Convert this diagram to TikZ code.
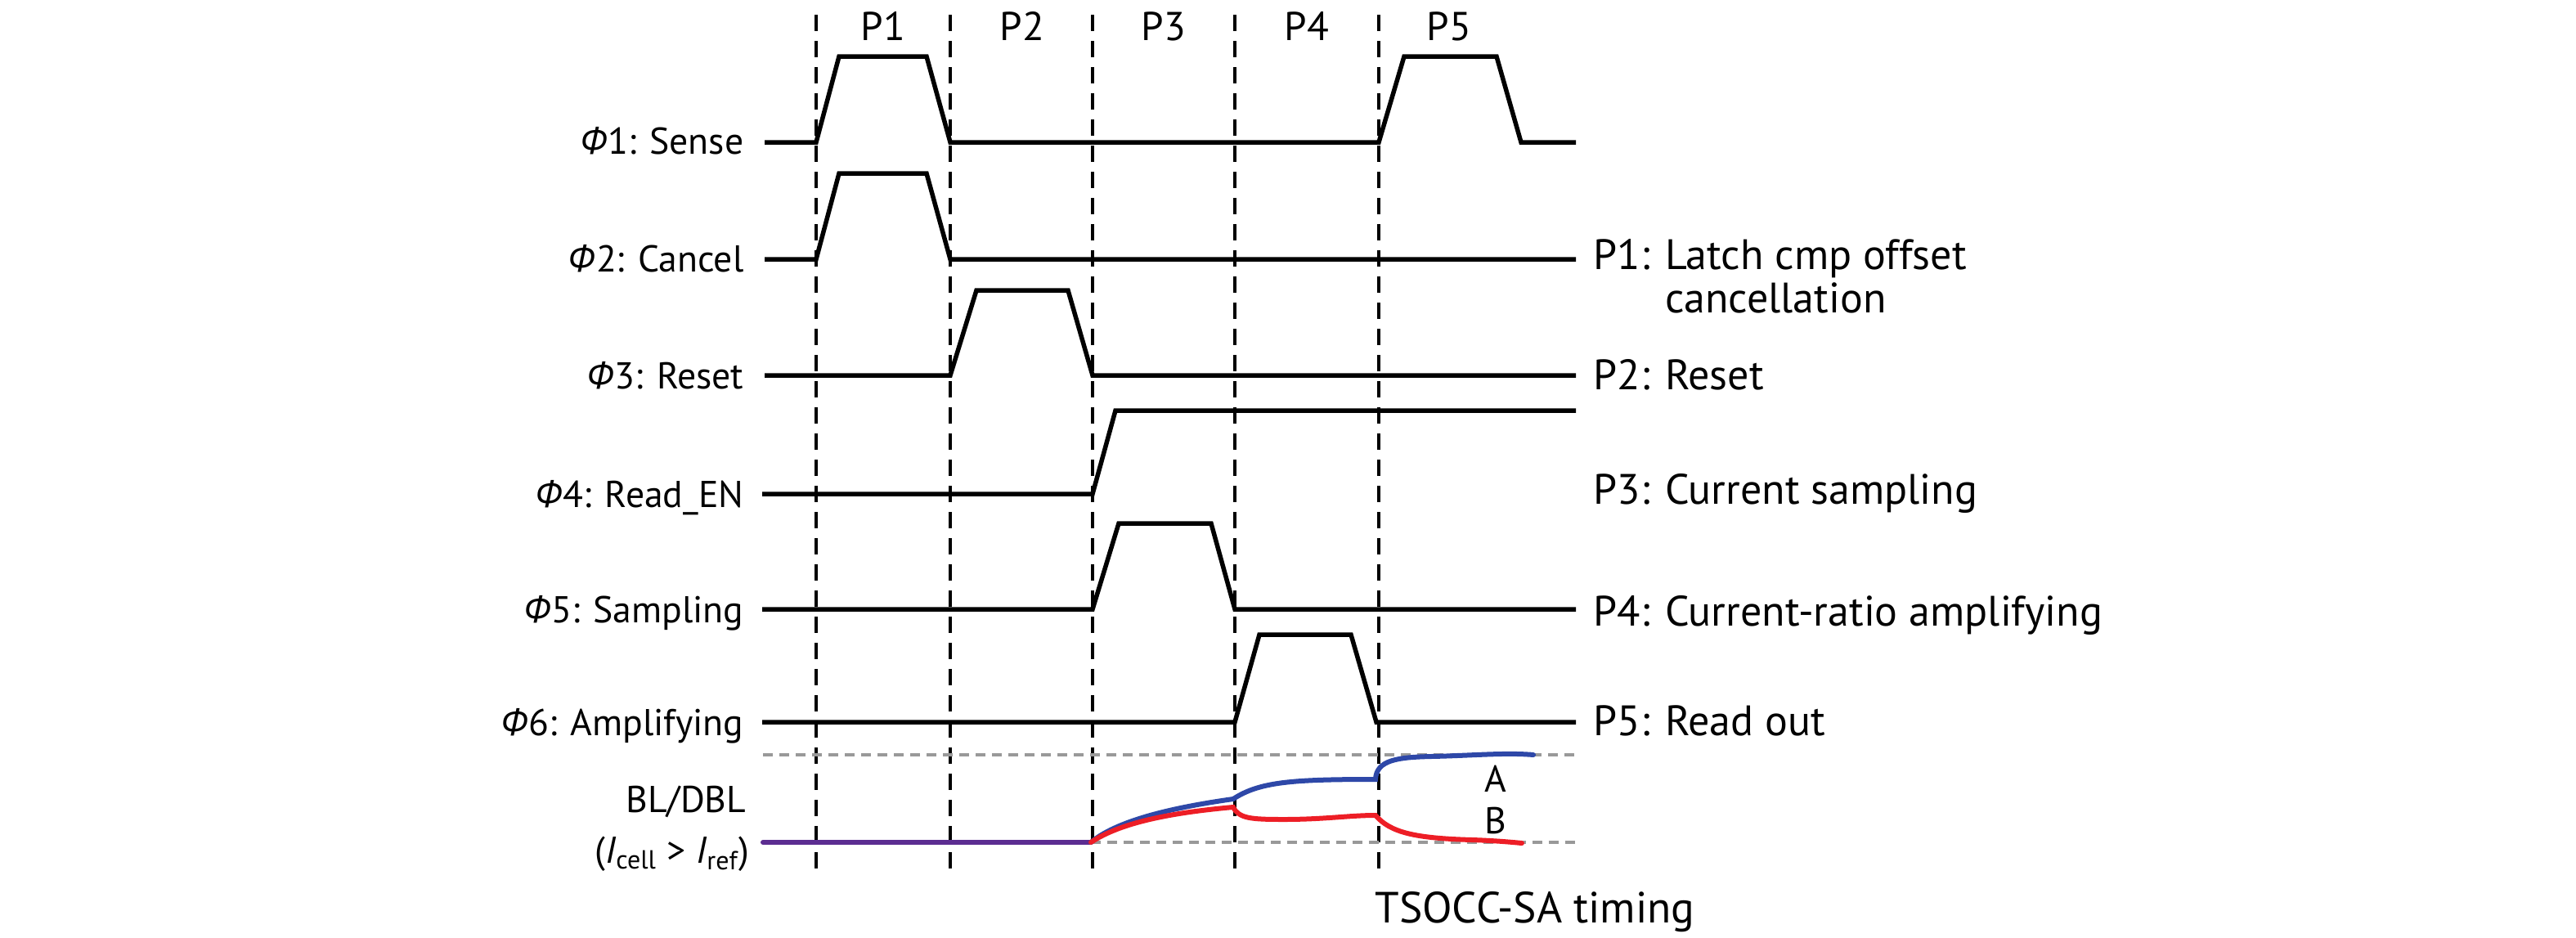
\documentclass[tikz,border=0pt]{standalone}
\usepackage{fontspec}
\setmainfont{PT Sans}
\newfontfamily\grkfont{Open Sans}
\usetikzlibrary{positioning}

\definecolor{blA}{RGB}{46,72,168}
\definecolor{blB}{RGB}{237,30,38}
\definecolor{blpre}{RGB}{92,45,145}

\newcommand{\phin}[1]{{\grkfont\itshape Φ}#1}

\begin{document}
\begin{tikzpicture}[x=1mm,y=-1mm,
  signal/.style={line width=0.55mm,line join=miter},
  phaseline/.style={line width=0.4mm,dash pattern=on 2mm off 1.2mm},
  level/.style={line width=0.4mm,color=black!40,dash pattern=on 1.2mm off 0.8mm},
  blcurve/.style={line width=0.6mm,line cap=round},
  leftlab/.style={font=\fontsize{13}{15}\selectfont,inner sep=0pt,anchor=base east},
  rightlab/.style={font=\fontsize{14.8}{15.1}\selectfont,inner sep=0pt,anchor=base west},
  phlab/.style={font=\fontsize{14}{15}\selectfont,inner sep=0pt,anchor=base}]
\useasboundingbox (0,0) rectangle (315,114.6);

% les phases
\draw[phaseline] (99.8,1.8) -- (99.8,107.3);
\foreach \x in {116.2,133.6,151.0,168.6}
  \draw[phaseline] (\x,1.8) -- (\x,106.2);
\node[phlab] (ph1) at (108.0,4.9) {P1};
\node[phlab] (ph2) at (125.0,4.9) {P2};
\node[phlab] (ph3) at (142.3,4.9) {P3};
\node[phlab] (ph4) at (159.8,4.9) {P4};
\node[phlab] (ph5) at (177.2,4.9) {P5};

% les signaux
\draw[signal] (93.5,17.4) -- (99.8,17.4) -- (102.6,6.9) -- (113.3,6.9) -- (116.2,17.4)
  -- (168.6,17.4) -- (171.7,6.9) -- (183.0,6.9) -- (186.0,17.4) -- (192.7,17.4);
\draw[signal] (93.5,31.7) -- (99.8,31.7) -- (102.6,21.2) -- (113.3,21.2) -- (116.2,31.7)
  -- (192.7,31.7);
\draw[signal] (93.5,45.9) -- (116.2,45.9) -- (119.4,35.5) -- (130.6,35.5) -- (133.6,45.9)
  -- (192.7,45.9);
\draw[signal] (93.2,60.4) -- (133.6,60.4) -- (136.4,50.2) -- (192.7,50.2);
\draw[signal] (93.2,74.5) -- (133.6,74.5) -- (136.8,64.0) -- (148.1,64.0) -- (151.0,74.5)
  -- (192.7,74.5);
\draw[signal] (93.2,88.3) -- (151.0,88.3) -- (154.0,77.6) -- (165.2,77.6) -- (168.3,88.3)
  -- (192.7,88.3);

\node[leftlab] (s1) at (91.0,18.8) {\phin{1}: Sense};
\node[leftlab] (s2) at (91.0,33.2) {\phin{2}: Cancel};
\node[leftlab] (s3) at (91.0,47.5) {\phin{3}: Reset};
\node[leftlab] (s4) at (91.0,62.0) {\phin{4}: Read\_EN};
\node[leftlab] (s5) at (91.0,76.1) {\phin{5}: Sampling};
\node[leftlab] (s6) at (91.0,89.9) {\phin{6}: Amplifying};

\node[rightlab] (r1) at (194.8,32.9) {P1: \begin{tabular}[t]{@{}l@{}}Latch cmp offset\\cancellation\end{tabular}};
\node[rightlab] (r2) at (194.8,47.6) {P2: Reset};
\node[rightlab] (r3) at (194.8,61.6) {P3: Current sampling};
\node[rightlab] (r4) at (194.8,76.5) {P4: Current-ratio amplifying};
\node[rightlab] (r5) at (194.8,89.9) {P5: Read out};

% BL / DBL
\draw[level] (93.3,92.3) -- (192.7,92.3);
\draw[level] (133.4,103.0) -- (192.7,103.0);
\draw[blcurve,blpre] (93.3,103.0) -- (133.4,103.0);
\draw[blcurve,blA] (133.4,103.0) .. controls (136.5,100.4) and (143,98.8) .. (150.8,97.7)
  .. controls (154,95.6) and (158,95.3) .. (168.2,95.3)
  .. controls (168.3,92.9) and (171,92.6) .. (175,92.5)
  .. controls (180,92.4) and (184,92.0) .. (187.5,92.3);
\draw[blcurve,blB] (133.4,103.0) .. controls (137,100.6) and (143,99.4) .. (150.8,98.7)
  .. controls (151.5,100.1) and (153,100.2) .. (157,100.2)
  .. controls (162,100.2) and (165,99.7) .. (168.2,99.7)
  .. controls (170,101.8) and (173,102.5) .. (180,102.7)
  .. controls (183,102.8) and (185,103.0) .. (186.1,103.1);

\node[leftlab,anchor=base] (la) at (182.9,96.8) {A};
\node[leftlab,anchor=base] (lb) at (182.9,101.9) {B};
\node[leftlab] (bl) at (91.3,99.3) {BL/DBL};
\node[leftlab] (ic) at (91.7,105.5) {(\textit{I}\textsubscript{cell} > \textit{I}\textsubscript{ref})};

\node[rightlab,anchor=base,font=\fontsize{15.2}{16}\selectfont] (tt) at (187.7,112.8) {TSOCC-SA timing};
\end{tikzpicture}
\end{document}
